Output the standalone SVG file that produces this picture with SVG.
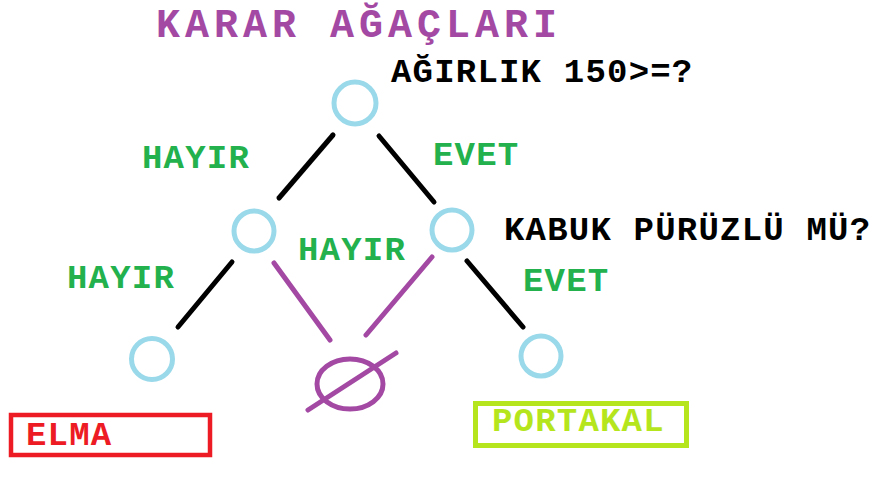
<svg xmlns="http://www.w3.org/2000/svg" width="886" height="480" viewBox="0 0 886 480">
<style>
text{font-family:"Liberation Mono","Courier New",monospace;font-weight:bold;font-size:34px;letter-spacing:1.2px}
.t{fill:#A349A4;font-size:40px;letter-spacing:5px}
.q{fill:#000}
.g{fill:#22B14C}
.n{fill:none;stroke:#99D9EA;stroke-width:5}
.b{stroke:#000;stroke-width:5;stroke-linecap:round}
.p{stroke:#A349A4;stroke-width:5;stroke-linecap:round;fill:none}
</style>
<rect width="886" height="480" fill="#fff"/>
<text class="t" x="156" y="37">KARAR AĞAÇLARI</text>
<g id="connectors">
<line class="b" x1="333" y1="135" x2="279" y2="198"/>
<line class="b" x1="379" y1="136" x2="434" y2="202"/>
<line class="b" x1="232" y1="262" x2="178" y2="327"/>
<line class="b" x1="467" y1="261" x2="523" y2="327"/>
<line class="p" x1="274" y1="263" x2="330" y2="340"/>
<line class="p" x1="432" y1="257" x2="366" y2="335"/>
</g>
<g id="root"><circle class="n" cx="355" cy="103" r="21"/><text class="q" x="391" y="82">AĞIRLIK 150&gt;=?</text></g>
<g id="left"><circle class="n" cx="254" cy="231" r="20"/></g>
<g id="right"><circle class="n" cx="452" cy="230" r="20"/><text class="q" x="504" y="240">KABUK PÜRÜZLÜ MÜ?</text></g>
<g id="leaf-left"><circle class="n" cx="152" cy="359" r="20.5"/></g>
<g id="leaf-right"><circle class="n" cx="541" cy="356" r="20"/></g>
<g id="empty"><ellipse class="p" cx="350" cy="384" rx="33" ry="25"/><line class="p" x1="308" y1="410" x2="396" y2="353"/></g>
<g id="elma"><rect x="11" y="415" width="199" height="40" fill="none" stroke="#ED1C24" stroke-width="4.5"/><text x="26" y="445" fill="#ED1C24">ELMA</text></g>
<g id="portakal"><rect x="475.5" y="403.5" width="211" height="42" fill="none" stroke="#B5E61D" stroke-width="5"/><text x="492" y="431" fill="#B5E61D">PORTAKAL</text></g>
<g id="labels">
<text class="g" x="142" y="168">HAYIR</text>
<text class="g" x="433" y="165">EVET</text>
<text class="g" x="298" y="260">HAYIR</text>
<text class="g" x="67" y="288">HAYIR</text>
<text class="g" x="523" y="291">EVET</text>
</g>
</svg>
